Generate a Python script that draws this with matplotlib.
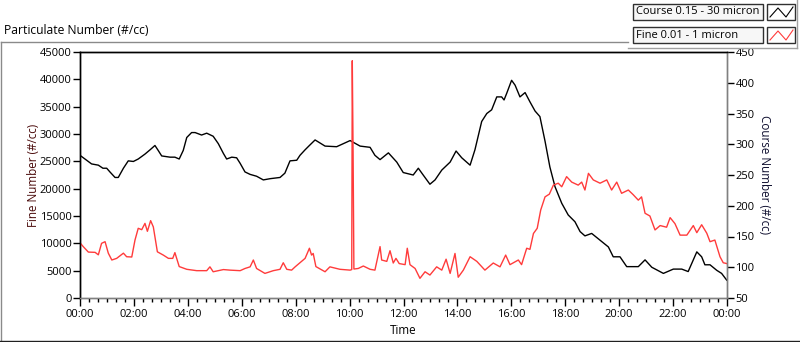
import matplotlib
matplotlib.use("Agg")
import matplotlib.pyplot as plt
from matplotlib.lines import Line2D
from matplotlib.patches import Rectangle

# ---- data (time in hours since 00:00) ----
course_t = [0.00, 0.43, 0.68, 0.85, 0.99, 1.11, 1.30, 1.42, 1.61, 1.79, 1.98, 2.16, 2.41, 2.60,
            2.78, 2.90, 3.03, 3.34, 3.52, 3.68, 3.83, 3.96, 4.14, 4.27, 4.51, 4.70, 4.94, 5.13,
            5.32, 5.44, 5.63, 5.81, 5.94, 6.12, 6.31, 6.55, 6.80, 7.05, 7.42, 7.60, 7.79, 8.04,
            8.16, 8.35, 8.51, 8.72, 9.09, 9.52, 10.02, 10.39, 10.76, 10.94, 11.13, 11.44, 11.75,
            11.99, 12.36, 12.55, 12.73, 12.98, 13.17, 13.42, 13.73, 13.95, 14.16, 14.47, 14.65,
            14.90, 15.09, 15.27, 15.46, 15.64, 15.73, 15.83, 16.01, 16.14, 16.32, 16.51, 16.69,
            16.88, 17.06, 17.25, 17.43, 17.62, 17.87, 18.11, 18.36, 18.55, 18.73, 18.98, 19.29,
            19.60, 19.78, 20.03, 20.28, 20.71, 20.96, 21.21, 21.64, 22.01, 22.32, 22.56, 22.69,
            22.88, 23.06, 23.18, 23.37, 23.62, 23.80, 23.99]
course_v = [282, 268, 266, 261, 261, 255, 246, 246, 261, 273, 272, 276, 284, 291,
            298, 290, 281, 279, 279, 276, 290, 311, 319, 319, 315, 318, 313, 301,
            285, 276, 279, 278, 269, 255, 251, 248, 242, 244, 246, 253, 273, 274,
            282, 291, 298, 307, 297, 296, 306, 297, 295, 282, 275, 286, 271,
            254, 250, 261, 250, 235, 242, 258, 271, 289, 278, 266, 291,
            337, 350, 356, 377, 377, 372, 383, 404, 396, 377, 384, 369,
            354, 345, 305, 263, 231, 204, 185, 174, 158, 151, 155, 144,
            133, 117, 117, 101, 101, 112, 100, 90, 97, 97, 93, 106,
            125, 117, 104, 104, 95, 90, 79]

fine_t = [0.00, 0.12, 0.31, 0.56, 0.68, 0.80, 0.93, 1.05, 1.18, 1.36, 1.61, 1.73, 1.92, 2.04,
          2.16, 2.29, 2.41, 2.50, 2.62, 2.72, 2.87, 3.09, 3.28, 3.44, 3.52, 3.68, 3.96, 4.33,
          4.70, 4.82, 4.94, 5.32, 5.56, 5.94, 6.12, 6.31, 6.43, 6.55, 6.86, 7.17, 7.42, 7.54,
          7.67, 7.85, 7.98, 8.16, 8.35, 8.51, 8.59, 8.65, 8.75, 9.09, 9.27, 9.64, 10.02, 10.08,
          10.10, 10.13, 10.16, 10.32, 10.51, 10.76, 10.94, 11.13, 11.19, 11.38, 11.50, 11.62,
          11.72, 11.84, 12.06, 12.14, 12.24, 12.43, 12.61, 12.80, 12.98, 13.23, 13.42, 13.58,
          13.73, 13.91, 14.03, 14.22, 14.47, 14.72, 15.02, 15.33, 15.58, 15.79, 15.95, 16.26,
          16.38, 16.57, 16.69, 16.82, 16.96, 17.09, 17.25, 17.41, 17.56, 17.74, 17.87, 18.05,
          18.24, 18.48, 18.61, 18.73, 18.86, 19.04, 19.29, 19.54, 19.72, 19.91, 20.09, 20.34,
          20.52, 20.71, 20.83, 20.96, 21.14, 21.33, 21.52, 21.76, 21.89, 22.07, 22.26, 22.51,
          22.75, 22.88, 23.06, 23.25, 23.37, 23.55, 23.74, 23.86, 23.99]
fine_v = [10100, 9400, 8400, 8350, 7900, 10000, 10300, 8200, 6950, 7250, 8200, 7550, 7500, 10600,
          12750, 12500, 13650, 12200, 14150, 13000, 8450, 7850, 7250, 7250, 8300, 5750, 5250, 5000,
          5000, 5700, 4800, 5200, 5100, 5000, 5400, 5700, 6950, 5400, 4500, 5000, 5250, 6450,
          5250, 5100, 5700, 6450, 7250, 9100, 7850, 8150, 5750, 4800, 5700, 5250, 5100, 5200,
          43400, 26800, 5300, 5400, 5850, 5250, 5100, 9400, 6950, 6700, 8650, 6400,
          7250, 6300, 6100, 9100, 6100, 5400, 3600, 4800, 4200, 5700, 5100, 7100,
          4500, 8150, 3800, 5100, 7550, 6700, 5100, 6400, 5700, 7850, 6100, 6950,
          6100, 9100, 8900, 11800, 12750, 16100, 18500, 19000, 20650, 21000, 20350, 22200,
          21200, 20650, 21200, 19750, 22800, 21600, 21000, 21600, 19750, 21200, 19150, 19750,
          18900, 17900, 18500, 15500, 15000, 12450, 13250, 12950, 14700, 13600, 11500, 11500,
          13250, 11950, 13400, 11850, 10300, 10600, 7550, 6450, 6300]

x_major = list(range(0, 25, 2))
x_labels = ["%02d:00" % (h % 24) for h in x_major]
fine_ticks = list(range(0, 45001, 5000))
course_ticks = list(range(50, 451, 50))

series_names = ["Course 0.15 - 30 micron", "Fine 0.01 - 1 micron"]
title = "Particulate Number (#/cc)"

# ---- figure ----
plt.rcParams['font.family'] = ['Open Sans', 'DejaVu Sans']
FS = 8
W, H = 800, 342
fig = plt.figure(figsize=(W / 100, H / 100), dpi=100)

def fx(px):
    return px / W

def fy(py):
    return 1 - py / H

ax = fig.add_axes([fx(80), fy(298), fx(727) - fx(80), fy(52) - fy(298)])
ax2 = ax.twinx()
ax.set_zorder(ax2.get_zorder() + 1)
ax.patch.set_visible(False)

ax2.plot(course_t, course_v, color='black', lw=1.0)
ax.plot(fine_t, fine_v, color='#ff3b3b', lw=1.0)

ax.set_xlim(0, 24)
ax.set_ylim(0, 45000)
ax2.set_ylim(50, 450)
ax.set_xticks(x_major)
ax.set_xticklabels(x_labels)
ax.set_xticks([i / 3 for i in range(0, 73)], minor=True)
ax.set_yticks(fine_ticks)
ax.set_yticklabels([str(v) for v in fine_ticks])
ax2.set_yticks(course_ticks)
ax2.set_yticklabels([str(v) for v in course_ticks])

for a in (ax, ax2):
    for s in a.spines.values():
        s.set_linewidth(1.0)
    a.spines['left'].set_color('black')
    a.spines['top'].set_color('black')
    a.spines['right'].set_color('#808080')
    a.spines['bottom'].set_color('#808080')

ax.tick_params(axis='x', which='major', length=6, width=1, direction='out', labelsize=FS, pad=2, colors='black')
ax.tick_params(axis='x', which='minor', length=3, width=1, direction='out')
ax.tick_params(axis='y', length=5, width=1, direction='out', labelsize=FS, pad=1)
ax2.tick_params(axis='y', length=5, width=1, direction='out', labelsize=FS, pad=1)

ax.set_ylabel("Fine Number (#/cc)", fontsize=8.4, color='#4a0a0a', labelpad=0)
ax2.set_ylabel("Course Number (#/cc)", fontsize=8.4, rotation=-90, labelpad=12, color='#101030')
ax.set_xlabel("Time", fontsize=8.4, labelpad=3)

# outer frame
fig.add_artist(Line2D([fx(0.5), fx(628)], [fy(42), fy(42)], color='#8a8a8a', lw=1))
fig.add_artist(Line2D([fx(0.5), fx(0.5)], [fy(42), fy(341)], color='#8a8a8a', lw=1))
fig.add_artist(Line2D([fx(0), fx(800)], [fy(341), fy(341)], color='#202020', lw=1))

fig.text(fx(4), fy(31), title, fontsize=8.7, va='center', ha='left')

# legend panel
fig.add_artist(Line2D([fx(628), fx(797)], [fy(48), fy(48)], color='#a0a0a0', lw=1))
fig.add_artist(Line2D([fx(797), fx(797)], [fy(0), fy(48)], color='#a0a0a0', lw=1))
rows = [(4, 20), (27, 43)]
colors = ['black', '#ff3b3b']
for (y0, y1), name, c in zip(rows, series_names, colors):
    fig.add_artist(Rectangle((fx(633), fy(y1)), fx(763) - fx(633), fy(y0) - fy(y1),
                             facecolor='#f7f7f7', edgecolor='#303030', lw=1))
    fig.add_artist(Rectangle((fx(767), fy(y1)), fx(795) - fx(767), fy(y0) - fy(y1),
                             facecolor='white', edgecolor='#303030', lw=1))
    fig.text(fx(636), fy((y0 + y1) / 2), name, fontsize=8.0, va='center', ha='left')
    zx = [770, 778, 786, 793]
    zy = [y1 - 3, y0 + 4, y1 - 3, y0 + 3]
    fig.add_artist(Line2D([fx(v) for v in zx], [fy(v) for v in zy], color=c, lw=0.8))

fig.savefig("out.png", dpi=100)
